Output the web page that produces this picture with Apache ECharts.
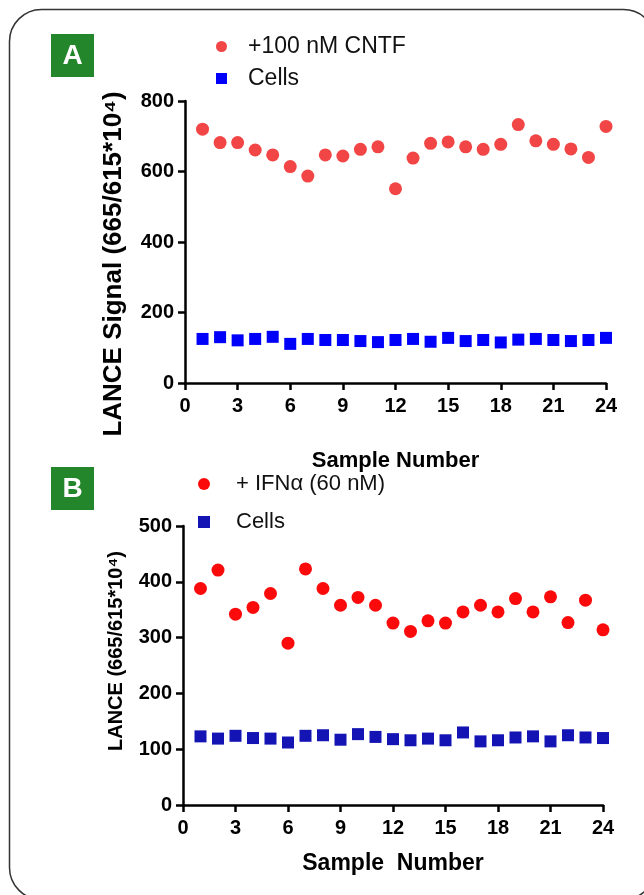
<!DOCTYPE html>
<html>
<head>
<meta charset="utf-8">
<script src="https://cdn.jsdelivr.net/npm/echarts@6/dist/echarts.min.js"></script>
<style>
html,body{margin:0;padding:0;background:#fff;}
#c{width:644px;height:895px;}
</style>
</head>
<body>
<div id="c"></div>
<script>
// Data
const samples = [1,2,3,4,5,6,7,8,9,10,11,12,13,14,15,16,17,18,19,20,21,22,23,24];
const aCntf = [720,682,682,661,647,614,587,647,644,663,670,551,638,680,684,670,663,677,733,687,677,664,640,728];
const aCells = [125,130,121,125,131,111,125,122,122,119,116,122,125,117,128,119,122,115,123,125,122,119,122,128];
const bIfn = [388,421,342,354,379,290,423,388,358,372,358,326,311,330,326,346,358,346,370,346,373,327,367,314];
const bCells = [123,119,124,120,119,112,124,125,117,127,122,118,116,119,116,130,114,116,121,123,114,125,121,120];
const xTicks = [0,3,6,9,12,15,18,21,24];
const aYTicks = [0,200,400,600,800];
const bYTicks = [0,100,200,300,400,500];

const pairs = (vals) => samples.map((s, i) => [s, vals[i]]);

const FONT = 'Liberation Sans, Arial, Helvetica, sans-serif';
const C = {
  aRed: '#f24545', aBlue: '#0000fa',
  bRed: '#fa0a0a', bBlue: '#1414b4',
  green: '#23862b', axis: '#000'
};

function xAxisCfg(gridIndex, nameGap, fs) {
  return {
    type: 'value', gridIndex, min: xTicks[0], max: xTicks[xTicks.length-1], interval: 3,
    name: gridIndex === 0 ? 'Sample Number' : 'Sample  Number',
    nameLocation: 'middle', nameGap,
    nameTextStyle: {fontFamily: FONT, fontWeight: 'bold', fontSize: fs, color: '#000'},
    axisLine: {show: true, onZero: false, lineStyle: {color: C.axis, width: 2.5}},
    axisTick: {show: true, length: 7, lineStyle: {color: C.axis, width: 2.5}},
    axisLabel: {fontFamily: FONT, fontWeight: 'bold', fontSize: 20, color: '#000', margin: 13},
    splitLine: {show: false}
  };
}
function yAxisCfg(gridIndex, ticks, name, nameGap, fs, pad) {
  return {
    type: 'value', gridIndex, min: ticks[0], max: ticks[ticks.length-1], interval: ticks[1]-ticks[0],
    name, nameLocation: 'middle', nameGap, nameRotate: 90,
    nameTextStyle: {fontFamily: FONT, fontWeight: 'bold', fontSize: fs, color: '#000', padding: pad},
    axisLine: {show: true, onZero: false, lineStyle: {color: C.axis, width: 2.5}},
    axisTick: {show: true, length: 7, lineStyle: {color: C.axis, width: 2.5}},
    axisLabel: {fontFamily: FONT, fontWeight: 'bold', fontSize: 20, color: '#000', margin: 11},
    splitLine: {show: false}
  };
}

const chart = echarts.init(document.getElementById('c'), null, {renderer: 'canvas'});
const option = {
  animation: false,
  backgroundColor: '#fff',
  graphic: [
    {type: 'rect', shape: {x: 9.5, y: 9.5, width: 646, height: 890, r: 32}, style: {fill: 'none', stroke: '#333', lineWidth: 1.5}, silent: true},
    {type: 'rect', shape: {x: 51, y: 34, width: 43, height: 43}, style: {fill: C.green}},
    {type: 'text', x: 72.5, y: 56.5, style: {text: 'A', fill: '#fff', font: 'bold 28px ' + FONT, textAlign: 'center', textVerticalAlign: 'middle'}},
    {type: 'rect', shape: {x: 51, y: 467, width: 43, height: 43}, style: {fill: C.green}},
    {type: 'text', x: 72.5, y: 489.5, style: {text: 'B', fill: '#fff', font: 'bold 28px ' + FONT, textAlign: 'center', textVerticalAlign: 'middle'}}
  ],
  legend: [
    {
      orient: 'vertical', left: 216, top: 35, padding: 0, itemWidth: 11, itemHeight: 11, itemGap: 9,
      textStyle: {fontFamily: FONT, fontSize: 23, color: '#111', padding: [0, 0, 0, 16], lineHeight: 23},
      data: [{name: '+100 nM CNTF', icon: 'circle'}, {name: 'Cells', icon: 'rect'}],
      selectedMode: false
    },
    {
      orient: 'vertical', left: 198, top: 473, padding: 0, itemWidth: 12, itemHeight: 12, itemGap: 16,
      textStyle: {fontFamily: FONT, fontSize: 22, color: '#111', padding: [0, 0, 0, 21], lineHeight: 22},
      data: [{name: '+ IFNα (60 nM)', icon: 'circle'}, {name: 'Cells', icon: 'rect', itemStyle: {color: C.bBlue}}],
      selectedMode: false
    }
  ],
  grid: [
    {left: 185, top: 101, width: 421, height: 282, outerBoundsMode: 'none'},
    {left: 183, top: 526, width: 420, height: 279, outerBoundsMode: 'none'}
  ],
  xAxis: [xAxisCfg(0, 67, 22), xAxisCfg(1, 47, 23)],
  yAxis: [
    yAxisCfg(0, aYTicks, 'LANCE Signal (665/615*10⁴)', 58, 26, [0, 44, 0, 0]),
    yAxisCfg(1, bYTicks, 'LANCE (665/615*10⁴)', 57, 20, [0, 0, 0, 29])
  ],
  series: [
    {name: '+100 nM CNTF', type: 'scatter', xAxisIndex: 0, yAxisIndex: 0, symbol: 'circle', symbolSize: 13, itemStyle: {color: C.aRed, opacity: 1}, data: pairs(aCntf)},
    {name: 'Cells', type: 'scatter', xAxisIndex: 0, yAxisIndex: 0, symbol: 'rect', symbolSize: 12, itemStyle: {color: C.aBlue, opacity: 1}, data: pairs(aCells)},
    {name: '+ IFNα (60 nM)', type: 'scatter', xAxisIndex: 1, yAxisIndex: 1, symbol: 'circle', symbolSize: 13, itemStyle: {color: C.bRed, opacity: 1}, data: pairs(bIfn)},
    {name: 'Cells', type: 'scatter', xAxisIndex: 1, yAxisIndex: 1, symbol: 'rect', symbolSize: 12, itemStyle: {color: C.bBlue, opacity: 1}, data: pairs(bCells)}
  ]
};
chart.setOption(option);
</script>
</body>
</html>
